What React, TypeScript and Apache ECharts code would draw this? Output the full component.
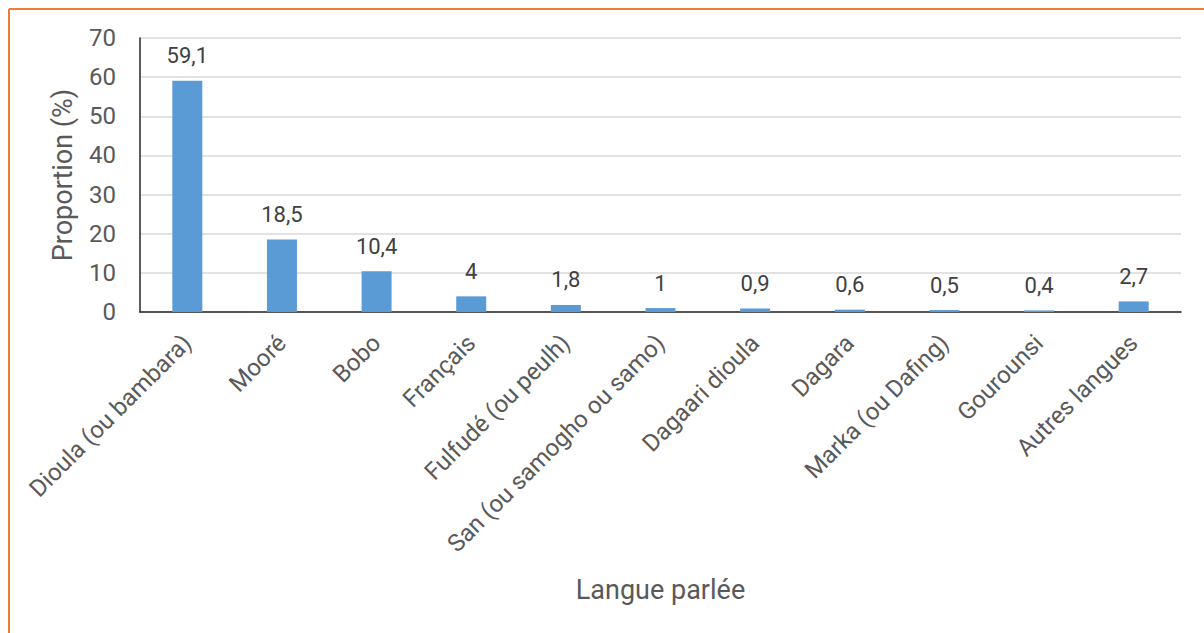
import React, { useEffect, useRef } from "react";
import * as echarts from "echarts";

const categories = [
  "Dioula (ou bambara)",
  "Mooré",
  "Bobo",
  "Français",
  "Fulfudé (ou peulh)",
  "San (ou samogho ou samo)",
  "Dagaari dioula",
  "Dagara",
  "Marka (ou Dafing)",
  "Gourounsi",
  "Autres langues",
];
const values = [59.1, 18.5, 10.4, 4, 1.8, 1, 0.9, 0.6, 0.5, 0.4, 2.7];
const yAxisName = "Proportion (%)";
const xAxisName = "Langue parlée";

const FONT = "Roboto, 'Noto Sans', sans-serif";

export default function App() {
  const ref = useRef<HTMLDivElement>(null);
  useEffect(() => {
    if (!ref.current) return;
    const chart = echarts.init(ref.current, null, { renderer: "svg" });
    chart.setOption({
      animation: false,
      backgroundColor: "#ffffff",
      textStyle: { fontFamily: FONT },
      grid: { left: 140, right: 23, top: 38, bottom: 321, containLabel: false },
      xAxis: {
        type: "category",
        data: categories,
        name: xAxisName,
        nameLocation: "middle",
        nameGap: 264,
        nameTextStyle: { fontSize: 27, color: "#595959", fontFamily: FONT },
        axisLine: { show: true, lineStyle: { color: "#262626", width: 1.5 } },
        axisTick: { show: false },
        axisLabel: {
          rotate: 45,
          interval: 0,
          fontSize: 24,
          color: "#595959",
          margin: 27,
          fontFamily: FONT,
        },
      },
      yAxis: {
        type: "value",
        min: 0,
        max: 70,
        interval: 10,
        name: yAxisName,
        nameLocation: "middle",
        nameRotate: 90,
        nameGap: 64,
        nameTextStyle: { fontSize: 27, color: "#595959", fontFamily: FONT },
        axisLine: { show: true, lineStyle: { color: "#262626", width: 1.5 } },
        axisTick: { show: false },
        axisLabel: { fontSize: 24, color: "#595959", margin: 24, fontFamily: FONT },
        splitLine: { show: true, lineStyle: { color: "#d9d9d9", width: 1.5 } },
      },
      series: [
        {
          type: "bar",
          data: values,
          barWidth: 30,
          itemStyle: { color: "#5b9bd5" },
          label: {
            show: true,
            position: "top",
            distance: 14,
            fontSize: 22,
            color: "#404040",
            fontFamily: FONT,
            formatter: (p: any) => String(p.value).replace(".", ","),
          },
        },
      ],
      graphic: [
        {
          type: "line",
          shape: { x1: 9, y1: 9, x2: 1204, y2: 9 },
          style: { stroke: "#ed7d31", lineWidth: 2 },
          silent: true,
        },
        {
          type: "line",
          shape: { x1: 9, y1: 9, x2: 9, y2: 633 },
          style: { stroke: "#ed7d31", lineWidth: 2 },
          silent: true,
        },
      ],
    });
    return () => chart.dispose();
  }, []);
  return (
    <div
      ref={ref}
      style={{ position: "fixed", left: 0, top: 0, width: 1204, height: 633 }}
    />
  );
}
